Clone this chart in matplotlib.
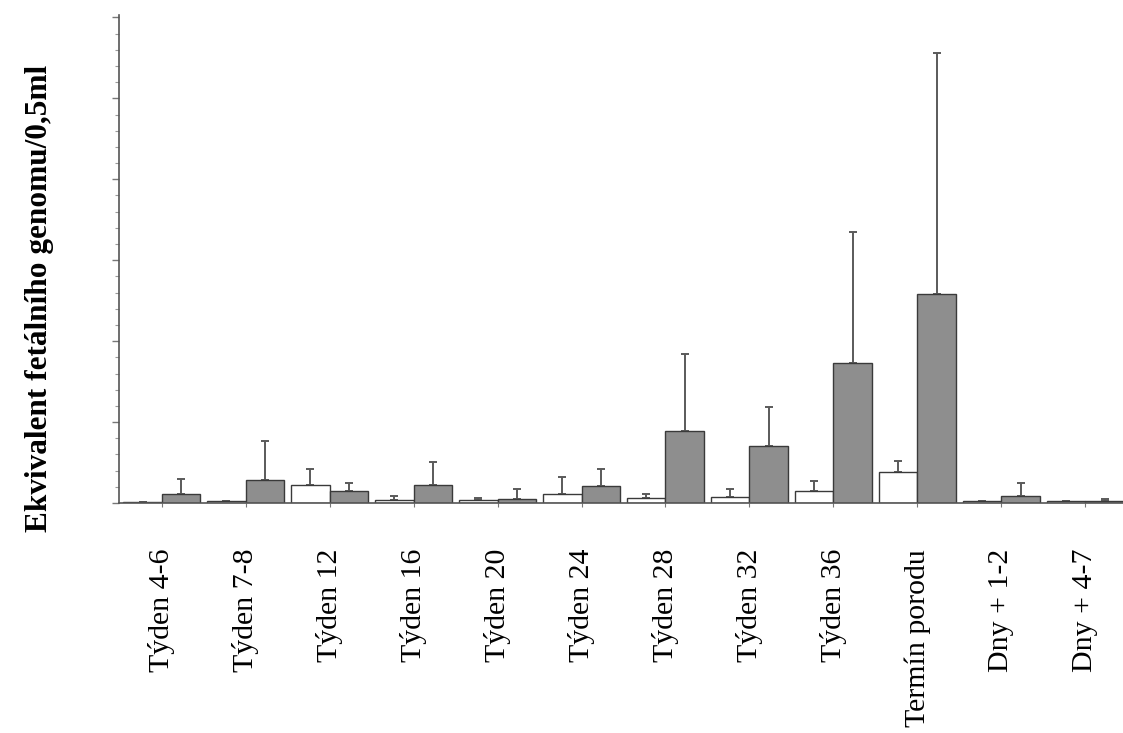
import matplotlib
matplotlib.use("Agg")
from matplotlib import pyplot as plt
import numpy as np

plt.rcParams["font.family"] = ["Liberation Serif", "DejaVu Serif"]

labels = ["Týden 4-6", "Týden 7-8", "Týden 12", "Týden 16", "Týden 20", "Týden 24",
          "Týden 28", "Týden 32", "Týden 36", "Termín porodu", "Dny + 1-2", "Dny + 4-7"]

# white bars (left of each pair) and grey bars (right of each pair)
white_mean = [0.01, 0.02, 0.22, 0.04, 0.04, 0.11, 0.06, 0.07, 0.15, 0.38, 0.02, 0.02]
white_err = [0.0, 0.0, 0.20, 0.05, 0.02, 0.21, 0.05, 0.10, 0.12, 0.14, 0.0, 0.0]
grey_mean = [0.11, 0.28, 0.15, 0.22, 0.05, 0.21, 0.89, 0.70, 1.73, 2.58, 0.09, 0.02]
grey_err = [0.19, 0.49, 0.10, 0.29, 0.12, 0.21, 0.95, 0.49, 1.62, 2.98, 0.16, 0.03]

x = np.arange(len(labels))
w = 0.46

fig = plt.figure(figsize=(11.23, 7.33), dpi=100)
ax = fig.add_axes([119 / 1123, 1 - 503 / 733, 1004 / 1123, 488 / 733])

ax.bar(x - w / 2, white_mean, w, color="white", edgecolor="#3a3a3a", linewidth=1.0, zorder=2)
ax.bar(x + w / 2, grey_mean, w, color="#8e8e8e", edgecolor="#3a3a3a", linewidth=1.0, zorder=2)

ax.errorbar(x - w / 2, white_mean, yerr=[np.zeros(len(x)), white_err], fmt="none",
            ecolor="#5a5a5a", elinewidth=1.4, capsize=3, capthick=1.4, zorder=1)
ax.errorbar(x + w / 2, grey_mean, yerr=[np.zeros(len(x)), grey_err], fmt="none",
            ecolor="#5a5a5a", elinewidth=1.4, capsize=3, capthick=1.4, zorder=1)

ax.set_xlim(-0.51, 11.45)
ax.set_ylim(0, 6.03)

for s in ["top", "right"]:
    ax.spines[s].set_visible(False)
for s in ["left", "bottom"]:
    ax.spines[s].set_color("#555555")
    ax.spines[s].set_linewidth(1.2)

ax.set_yticks(np.arange(0, 6.01, 1.0))
ax.set_yticks(np.arange(0, 6.01, 0.2), minor=True)
ax.set_yticklabels([])
ax.tick_params(axis="y", which="major", length=5, width=1, color="#777777")
ax.tick_params(axis="y", which="minor", length=3, width=0.8, color="#999999")

ax.set_xticks(x)
ax.set_xticklabels(labels, rotation=90, fontsize=21.5, va="top", ha="center")
ax.tick_params(axis="x", length=3, width=0.8, color="#777777", pad=30)

fig.text(40 / 1123, 1 - 298 / 733, "Ekvivalent fetálního genomu/0,5ml", rotation=90,
         ha="center", va="center", fontsize=22.5, fontweight="bold")

fig.savefig("out.png", dpi=100)
